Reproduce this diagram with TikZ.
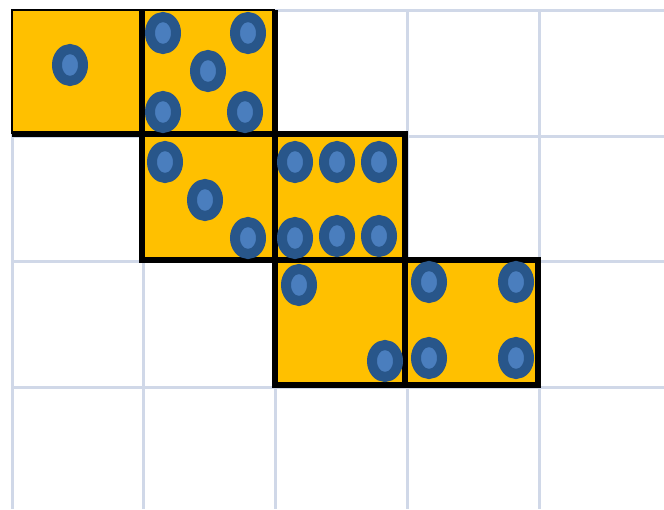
\documentclass[tikz,border=0pt]{standalone}
\usetikzlibrary{shapes.geometric}
\definecolor{gridc}{RGB}{208,216,232}
\definecolor{dief}{RGB}{255,192,0}
\definecolor{pipring}{RGB}{40,86,138}
\definecolor{pipin}{RGB}{74,126,190}
\tikzset{
  gridline/.style={draw=gridc, line width=3pt},
  thickedge/.style={draw=black, line width=5.5pt, line join=miter, line cap=butt},
  thinedge/.style={draw=black, line width=2pt},
  pip/.style={ellipse, draw=pipring, fill=pipin, line width=10pt, minimum width=26pt, minimum height=32pt, inner sep=0pt}
}
\begin{document}
\begin{tikzpicture}[x=1pt,y=-1pt]
\useasboundingbox (0,0) rectangle (664,509);
\fill[white] (0,0) rectangle (664,509);
% grid
\foreach \gx in {12,143,275,407,539} \draw[gridline] (\gx,10) -- (\gx,509);
\foreach \gy in {10,136,261,387} \draw[gridline] (12,\gy) -- (664,\gy);
% dice fills
\fill[dief] (12,10) rectangle (142,134);
\fill[dief] (142,10) rectangle (275,134);
\fill[dief] (142,134) rectangle (275,260);
\fill[dief] (275,134) rectangle (405,260);
\fill[dief] (275,260) rectangle (405,385);
\fill[dief] (405,260) rectangle (538,385);
% thin top/left edges
\draw[thinedge] (12,134) -- (12,10) -- (275,10);
% thick borders
\draw[thickedge] (12,134) -- (275,134);
\draw[thickedge] (142,10) -- (142,260) -- (405,260);
\draw[thickedge] (275,10) -- (275,385) -- (538,385) -- (538,260) -- (405,260);
\draw[thickedge] (275,134) -- (405,134) -- (405,385);
% die 1
\node[pip] (a1) at (70,65) {};
% die 2
\node[pip] (b1) at (163,33) {};
\node[pip] (b2) at (248,33) {};
\node[pip] (b3) at (208,71) {};
\node[pip] (b4) at (163,112) {};
\node[pip] (b5) at (245,112) {};
% die 3
\node[pip] (c1) at (165,162) {};
\node[pip] (c2) at (205,200) {};
\node[pip] (c3) at (248,238) {};
% die 4
\node[pip] (d1) at (295,162) {};
\node[pip] (d2) at (337,162) {};
\node[pip] (d3) at (379,162) {};
\node[pip] (d4) at (295,238) {};
\node[pip] (d5) at (337,236) {};
\node[pip] (d6) at (379,236) {};
% die 5
\node[pip] (e1) at (299,285) {};
\node[pip] (e2) at (385,361) {};
% die 6
\node[pip] (f1) at (429,282) {};
\node[pip] (f2) at (516,282) {};
\node[pip] (f3) at (429,358) {};
\node[pip] (f4) at (516,358) {};
\end{tikzpicture}
\end{document}
